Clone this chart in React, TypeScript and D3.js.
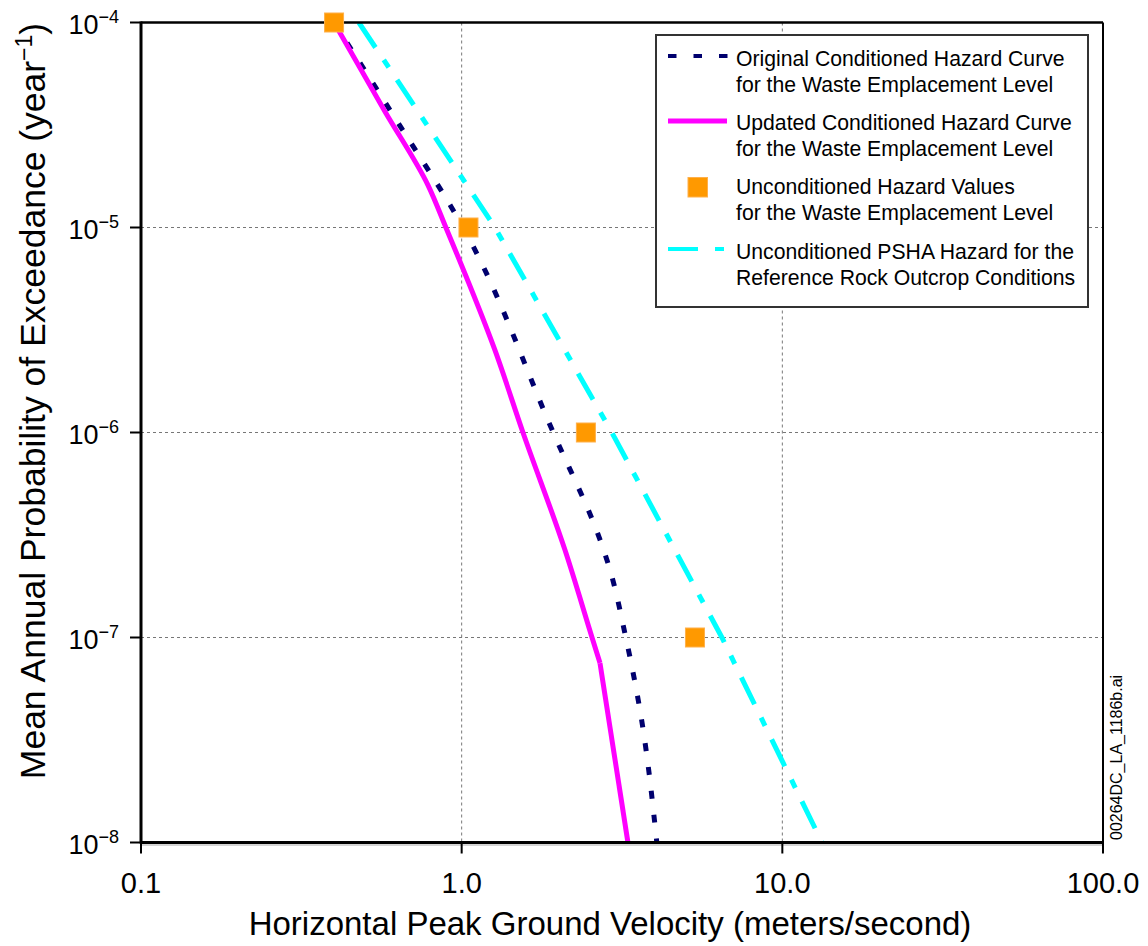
import React from "react";
import * as d3 from "d3";

const xTicks = [0.1, 1, 10, 100];
const xTickLabels = ["0.1", "1.0", "10.0", "100.0"];
const yTicks = [1e-4, 1e-5, 1e-6, 1e-7, 1e-8];
const yTickExp = ["−4", "−5", "−6", "−7", "−8"];

const originalV = [0.4, 0.602, 1.01, 1.93, 2.7, 2.86, 3.25, 3.6, 4.06];
const originalP = [1e-4, 3.67e-5, 1e-5, 1e-6, 3e-7, 2.3e-7, 1e-7, 4.4e-8, 1e-8];

const updatedV = [0.4, 0.577, 0.785, 0.893, 1.27, 1.553, 2.1, 2.55, 2.7, 3.3];
const updatedP = [1e-4, 3.67e-5, 1.61e-5, 1e-5, 2.52e-6, 1e-6, 2.67e-7, 1e-7, 7.5e-8, 1e-8];

const pshaV = [0.478, 1.27, 2.94, 6.48, 13.3];
const pshaP = [1e-4, 1e-5, 1e-6, 1e-7, 1e-8];

const uncondV = [0.4, 1.05, 2.44, 5.34];
const uncondP = [1e-4, 1e-5, 1e-6, 1e-7];

const legendLabels = [
  ["Original Conditioned Hazard Curve", "for the Waste Emplacement Level"],
  ["Updated Conditioned Hazard Curve", "for the Waste Emplacement Level"],
  ["Unconditioned Hazard Values", "for the Waste Emplacement Level"],
  ["Unconditioned PSHA Hazard for the", "Reference Rock Outcrop Conditions"],
];

const NAVY = "#00006e";
const MAGENTA = "#ff00ff";
const CYAN = "#00ffff";
const ORANGE = "#ff9900";
const FONT = "'Liberation Sans', Arial, Helvetica, sans-serif";

const L = 141, R = 1103, T = 22.5, B = 842.5;

export default function App() {
  const x = d3.scaleLog().domain([0.1, 100]).range([L, R]);
  const y = d3.scaleLog().domain([1e-8, 1e-4]).range([B, T]);

  const mk = (vs: number[], ps: number[]) => vs.map((v, i) => [v, ps[i]] as [number, number]);
  const lineLin = d3.line<[number, number]>().x((d) => x(d[0])).y((d) => y(d[1]));
  const lineSmooth = d3
    .line<[number, number]>()
    .x((d) => x(d[0]))
    .y((d) => y(d[1]))
    .curve(d3.curveMonotoneY);

  const updated = mk(updatedV, updatedP);
  const kink = updated.length - 2;

  const legX = 656, legY = 35, legW = 432, legH = 272;
  const rowY = [56, 121, 187, 249];
  const textBase = [66, 130, 194, 259];

  return (
    <svg
      width={1148}
      height={946}
      style={{ position: "absolute", left: 0, top: 0, background: "#fff" }}
      fontFamily={FONT}
    >
      <defs>
        <clipPath id="plotclip">
          <rect x={L} y={T} width={R - L} height={B - T} />
        </clipPath>
      </defs>
      <rect x={0} y={0} width={1148} height={946} fill="#fff" />

      {/* grid */}
      {xTicks.slice(1, -1).map((t) => (
        <line key={"gx" + t} x1={x(t)} x2={x(t)} y1={T} y2={B} stroke="#777" strokeWidth={1} strokeDasharray="3,3" />
      ))}
      {yTicks.slice(1, -1).map((t) => (
        <line key={"gy" + t} x1={L} x2={R} y1={y(t)} y2={y(t)} stroke="#777" strokeWidth={1} strokeDasharray="3,3" />
      ))}

      {/* curves */}
      <g clipPath="url(#plotclip)" fill="none">
        <path d={lineLin(mk(pshaV, pshaP)) || ""} stroke={CYAN} strokeWidth={5} strokeDasharray="30,15,9,15" />
        <path d={lineSmooth(mk(originalV, originalP)) || ""} stroke={NAVY} strokeWidth={5} strokeDasharray="8,16" />
        <path d={lineSmooth(updated.slice(0, kink + 1)) || ""} stroke={MAGENTA} strokeWidth={5} strokeLinejoin="round" />
        <path d={lineLin(updated.slice(kink)) || ""} stroke={MAGENTA} strokeWidth={5} strokeLinejoin="round" />
      </g>

      {/* frame */}
      <line x1={L} x2={R} y1={T} y2={T} stroke="#000" strokeWidth={2.5} />
      <line x1={R} x2={R} y1={T} y2={B} stroke="#000" strokeWidth={2} />
      <line x1={L} x2={L} y1={T - 1} y2={B + 1} stroke="#000" strokeWidth={3} />
      <line x1={L} x2={R + 1} y1={B} y2={B} stroke="#000" strokeWidth={3} />
      <line x1={L} x2={R} y1={B + 2.5} y2={B + 2.5} stroke="#aaa" strokeWidth={1} />

      {/* ticks */}
      {xTicks.map((t, i) => (
        <g key={"xt" + t}>
          <line x1={x(t)} x2={x(t)} y1={B} y2={B + 11} stroke="#000" strokeWidth={2} />
          <text x={x(t)} y={893} fontSize={29} textAnchor="middle" fill="#000">
            {xTickLabels[i]}
          </text>
        </g>
      ))}
      {yTicks.map((t, i) => (
        <g key={"yt" + t}>
          <line x1={L - 11} x2={L} y1={y(t)} y2={y(t)} stroke="#000" strokeWidth={2} />
          <text x={119} y={y(t) + 11} fontSize={27} textAnchor="end" fill="#000">
            10
            <tspan fontSize={18} dy={-11}>
              {yTickExp[i]}
            </tspan>
          </text>
        </g>
      ))}

      {/* axis titles */}
      <text x={(L + R) / 2 - 12} y={935} fontSize={33} textAnchor="middle" fill="#000">
        Horizontal Peak Ground Velocity (meters/second)
      </text>
      <text transform={`translate(45,${401}) rotate(-90)`} fontSize={35.5} textAnchor="middle" fill="#000">
        Mean Annual Probability of Exceedance (year
        <tspan fontSize={23} dy={-13}>−1</tspan>
        <tspan dy={13}>)</tspan>
      </text>

      {/* side id */}
      <text transform="translate(1122,840) rotate(-90)" fontSize={16} fill="#000">
        00264DC_LA_1186b.ai
      </text>

      {/* legend */}
      <rect x={legX} y={legY} width={legW} height={legH} fill="#fff" stroke="#333" strokeWidth={2} />
      <line x1={668} x2={728} y1={rowY[0]} y2={rowY[0]} stroke={NAVY} strokeWidth={4} strokeDasharray="8.5,17" />
      <line x1={668} x2={727} y1={rowY[1]} y2={rowY[1]} stroke={MAGENTA} strokeWidth={5} />
      <rect x={688} y={rowY[2] - 9.5} width={19.5} height={19.5} fill={ORANGE} stroke="#ffb04a" strokeWidth={1} />
      <line x1={668} x2={724} y1={rowY[3]} y2={rowY[3]} stroke={CYAN} strokeWidth={4} strokeDasharray="30,17,9,17" />
      {legendLabels.map((lines, i) => (
        <text key={"lg" + i} x={736} y={textBase[i]} fontSize={21.2} fill="#000">
          <tspan x={736}>{lines[0]}</tspan>
          <tspan x={736} dy={26}>
            {lines[1]}
          </tspan>
        </text>
      ))}

      {/* unconditioned squares */}
      {uncondV.map((v, i) => (
        <rect
          key={"sq" + i}
          x={x(v) - 9.5}
          y={y(uncondP[i]) - 9.5}
          width={19}
          height={19}
          fill={ORANGE}
          stroke="#ffb04a"
          strokeWidth={1}
        />
      ))}
    </svg>
  );
}
